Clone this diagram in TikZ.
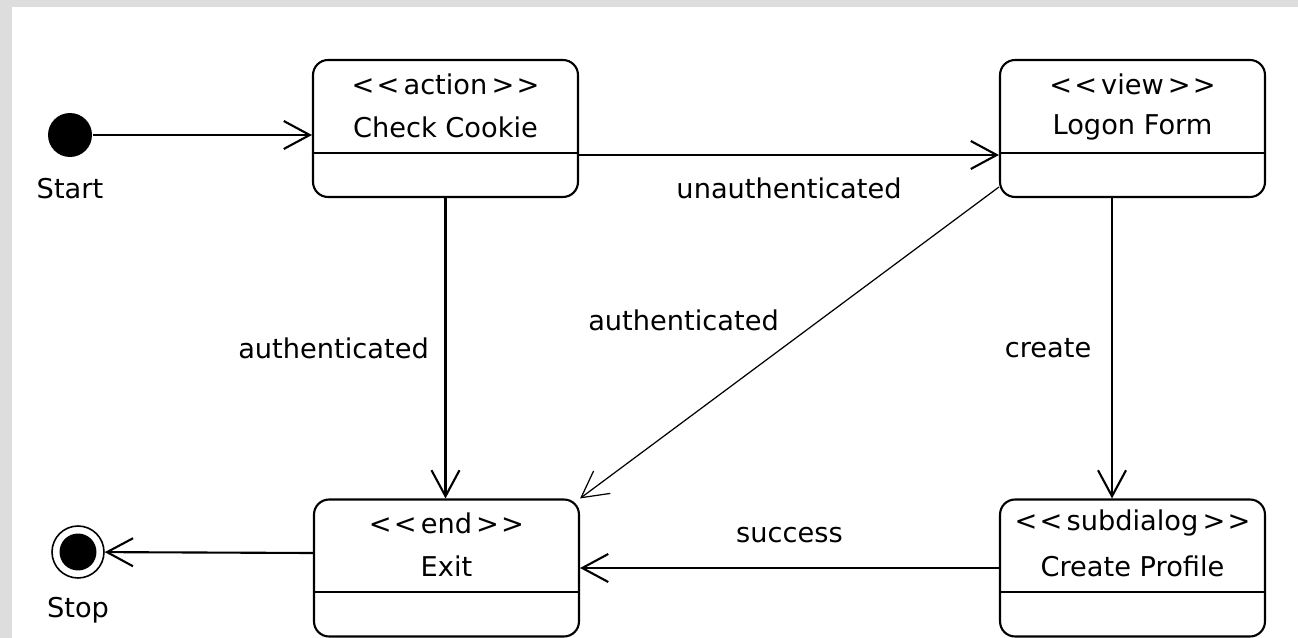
\documentclass[tikz,border=0pt]{standalone}
\usepackage{fontspec}
\setmainfont{DejaVu Sans}
\usetikzlibrary{arrows.meta}
\definecolor{framegrey}{RGB}{221,221,221}
\newcommand\stopen{<\kern0.08em<\kern0.15em}
\newcommand\stclose{\kern0.15em>\kern0.08em>}
\begin{document}
\begin{tikzpicture}[x=0.02cm,y=-0.02cm,line width=1.2pt,>={Straight Barb[length=0.52cm,width=0.56cm]},font=\fontsize{15.5}{18}\selectfont,
    state/.style={draw,rounded corners=0.3cm,minimum width=5.3cm,minimum height=2.74cm,inner sep=0pt}]
    \useasboundingbox (0,0) rectangle (1298,638);
    \fill[framegrey] (0,0) rectangle (1298,638);
    \fill[white] (12,7) rectangle (1298,638);
    \node[circle,fill,minimum size=0.88cm,inner sep=0pt] (start) at (70,135) {};
    \node (startlbl) at ([yshift=-0.62cm]start.south) {Start};
    \node[circle,draw,line width=0.9pt,minimum size=1.04cm,inner sep=0pt] (stop) at (78,552) {};
    \fill (stop.center) circle (0.37cm);
    \node (stoplbl) at ([yshift=-0.62cm]stop.south) {Stop};
    \node[state] (cc) at (445.5,128.5) {};
    \node[state] (lf) at (1132.5,128.5) {};
    \node[state] (ex) at (446.5,568) {};
    \node[state] (cp) at (1132.5,568) {};
    \node at ([yshift=-0.5cm]cc.north) {\stopen action\stclose};
    \node at ([yshift=-1.37cm]cc.north) {Check Cookie};
    \node at ([yshift=-0.5cm]lf.north) {\stopen view\stclose};
    \node at ([yshift=-1.37cm]lf.north) {Logon Form};
    \node at ([yshift=-0.5cm]ex.north) {\stopen end\stclose};
    \node at ([yshift=-1.35cm]ex.north) {Exit};
    \node at ([yshift=-0.5cm]cp.north) {\stopen subdialog\stclose};
    \node at ([yshift=-1.35cm]cp.north) {Create Profile};
    \foreach \s in {cc,lf,ex,cp}
        \draw ([yshift=-1.88cm]\s.north west)--([yshift=-1.88cm]\s.north east);
    \draw[->](start)--(start-|cc.west);
    \draw[->]([yshift=-0.53cm]cc.east)--([yshift=-0.53cm]lf.west)node[midway,yshift=-0.66cm]{unauthenticated};
    \draw[->](cc.south)--(cc.south|-ex.north)node[midway,xshift=-2.24cm]{authenticated};
    \draw[->,line width=0.7pt]([yshift=-1.17cm]lf.west)--(ex.north east)node[midway,xshift=-2.12cm,yshift=0.45cm]{authenticated};
    \draw[->]([xshift=-0.41cm]lf.south)--([xshift=-0.41cm]cp.north)node[midway,xshift=-1.28cm]{create};
    \draw[->](cp.west)--(ex.east)node[midway,yshift=0.66cm]{success};
    \draw[->]([yshift=0.3cm]ex.west)--(stop);
\end{tikzpicture}
\end{document}
